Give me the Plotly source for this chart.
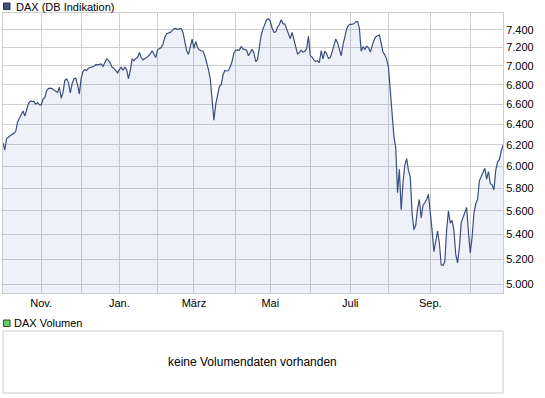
import pandas as pd
import numpy as np
import plotly.graph_objects as go

# ---- data (daily DAX closes, trading days from 2010-10-01) ----
start_date = "2010-10-01"
holidays = ["2010-12-24", "2010-12-31", "2011-04-22", "2011-04-25"]

dax_close = [
    6220, 6150, 6260, 6275, 6290, 6300, 6310, 6330, 6420, 6455,
    6490, 6530, 6480, 6540, 6605, 6630, 6625, 6625, 6600, 6615,
    6595, 6590, 6650, 6665, 6740, 6760, 6765, 6760, 6745, 6730,
    6720, 6775, 6660, 6720, 6845, 6860, 6825, 6715, 6810, 6860,
    6870, 6800, 6705, 6870, 6940, 6960, 6950, 6975, 6985, 6990,
    6995, 7015, 7010, 7015, 7020, 6995, 7040, 7075, 7060, 7030,
    6985, 6975, 6950, 6925, 6960, 6985, 6955, 6985, 6960, 6865,
    6950, 7075, 7055, 7080, 7090, 7145, 7090, 7065, 7080, 7090,
    7110, 7130, 7165, 7125, 7090, 7175, 7190, 7200, 7240, 7315,
    7355, 7360, 7370, 7390, 7410, 7415, 7405, 7410, 7415, 7370,
    7260, 7165, 7125, 7220, 7295, 7190, 7265, 7200, 7175, 7165,
    7160, 7110, 7040, 6960, 6860, 6620, 6440, 6600, 6680, 6780,
    6800, 6900, 6950, 6945, 6950, 6990, 7050, 7140, 7170, 7175,
    7170, 7210, 7185, 7180, 7170, 7110, 7155, 7180, 7140, 7045,
    7070, 7225, 7340, 7410, 7470, 7515, 7525, 7500, 7420, 7370,
    7375, 7430, 7460, 7515, 7470, 7465, 7410, 7360, 7300, 7370,
    7280, 7200, 7130, 7145, 7170, 7150, 7160, 7190, 7325, 7110,
    7095, 7065, 7050, 7055, 7035, 7165, 7075, 7160, 7130, 7080,
    7090, 7150, 7220, 7295, 7255, 7190, 7110, 7230, 7330, 7410,
    7450, 7465, 7460, 7470, 7490, 7495, 7420, 7160, 7210, 7180,
    7215, 7200, 7150, 7220, 7280, 7320, 7335, 7340, 7250, 7150,
    7120, 7070, 6990, 6720, 6450, 6280, 6170, 5760, 5970, 5610,
    5850, 6010, 6070, 5960, 5900, 5580, 5440, 5480, 5620, 5700,
    5540, 5650, 5670, 5700, 5745, 5600, 5435, 5260, 5350, 5430,
    5330, 5155, 5150, 5180, 5440, 5600, 5495, 5520, 5435, 5240,
    5170, 5295, 5500, 5540, 5590, 5630, 5420, 5250, 5380, 5580,
    5660, 5700, 5865, 5900, 5945, 5980, 5880, 5950, 5840, 5830,
    5785, 5960, 6040, 6060, 6140, 6195,
]

month_labels = ["Nov.", "", "Jan.", "", "März", "", "Mai", "", "Juli", "", "Sep.", ""]
y_ticks = [5000, 5200, 5400, 5600, 5800, 6000, 6200, 6400, 6600, 6800, 7000, 7200, 7400]
y_range = [4936, 7593]

series_name = "DAX (DB Indikation)"
volume_name = "DAX Volumen"
no_volume_text = "keine Volumendaten vorhanden"

# ---- derived ----
dates = pd.bdate_range(start=start_date, periods=len(dax_close), freq="C", holidays=holidays)
date_str = [d.strftime("%Y-%m-%d") for d in dates]
s = pd.Series(dates)
firsts = s.groupby(s.dt.to_period("M")).first().iloc[1:]
tick_dates = [d.strftime("%Y-%m-%d") for d in firsts]
y_labels = [f"{v:,}".replace(",", ".") for v in y_ticks]

FONT = "Liberation Sans, Arial, sans-serif"
GRID = "#d0d0d0"
BORDER = "#cccccc"
LINE = "#3b4f7e"
FILL = "rgba(85,115,195,0.10)"

W, H = 545, 398
ML, MR, MT, MB = 3, 42, 13, 5
plot_h = H - MT - MB
plot_w = W - ML - MR

def py(pix):  # pixel from top -> paper y
    return (H - MB - pix) / plot_h

def px(pix):  # pixel from left -> paper x
    return (pix - ML) / plot_w

fig = go.Figure()
fig.add_trace(go.Scatter(
    x=date_str, y=dax_close, mode="lines",
    line=dict(color=LINE, width=1.2),
    fill="tozeroy", fillcolor=FILL,
    hoverinfo="skip", showlegend=False,
))

fig.update_layout(
    width=W, height=H,
    margin=dict(l=ML, r=MR, t=MT, b=MB),
    paper_bgcolor="white", plot_bgcolor="white",
    font=dict(family=FONT, size=11, color="#000000"),
    showlegend=False,
    xaxis=dict(
        domain=[0, 1], anchor="y",
        range=[date_str[0], date_str[-1]],
        rangebreaks=[dict(bounds=["sat", "mon"]), dict(values=holidays)],
        tickmode="array", tickvals=tick_dates, ticktext=month_labels,
        showgrid=True, gridcolor=GRID, gridwidth=1,
        showline=True, linecolor=BORDER, linewidth=1, mirror=True,
        ticks="", tickfont=dict(size=11, family=FONT, color="#000"),
        zeroline=False, fixedrange=True,
    ),
    yaxis=dict(
        domain=[py(293), 1], anchor="x",
        type="log", range=[np.log10(y_range[0]), np.log10(y_range[1])],
        side="right",
        tickmode="array", tickvals=y_ticks, ticktext=y_labels,
        showgrid=True, gridcolor=GRID, gridwidth=1,
        showline=True, linecolor=BORDER, linewidth=1, mirror=True,
        ticks="", tickfont=dict(size=11, family=FONT, color="#000"),
        zeroline=False, fixedrange=True,
    ),
)

shapes = [
    dict(type="rect", xref="paper", yref="paper",
         x0=px(3.5), x1=px(10), y0=py(9.5), y1=py(3),
         fillcolor="#3d5283", line=dict(color="#26324f", width=1)),
    dict(type="rect", xref="paper", yref="paper",
         x0=px(3.5), x1=px(10), y0=py(326.5), y1=py(320),
         fillcolor="#66cc66", line=dict(color="#2f4f2f", width=1)),
    dict(type="rect", xref="paper", yref="paper",
         x0=0, x1=1, y0=0, y1=py(331),
         fillcolor="rgba(0,0,0,0)", line=dict(color=BORDER, width=1)),
]
fig.update_layout(shapes=shapes)

fig.add_annotation(text=series_name, xref="paper", yref="paper",
                   x=px(14), y=py(6.5), xanchor="left", yanchor="middle",
                   showarrow=False, font=dict(size=11, family=FONT, color="#000"))
fig.add_annotation(text=volume_name, xref="paper", yref="paper",
                   x=px(12), y=py(323), xanchor="left", yanchor="middle",
                   showarrow=False, font=dict(size=11, family=FONT, color="#000"))
fig.add_annotation(text=no_volume_text, xref="paper", yref="paper",
                   x=px(252.5), y=py(361.5), xanchor="center", yanchor="middle",
                   showarrow=False, font=dict(size=12, family=FONT, color="#000"))

fig.write_html(
    "out.html",
    config={"displayModeBar": False},
    post_script="document.body.style.margin='0';document.body.style.overflow='hidden';",
)
